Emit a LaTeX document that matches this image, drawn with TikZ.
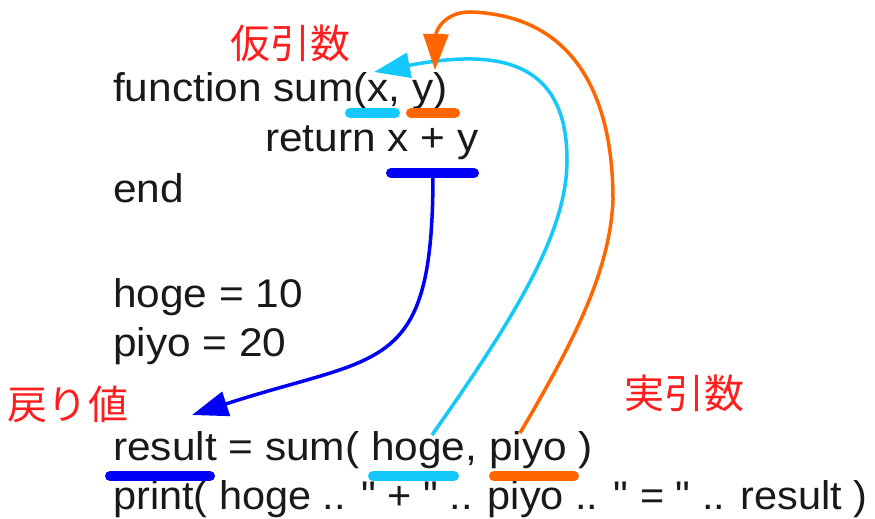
\documentclass[tikz,border=0pt]{standalone}
\usepackage{fontspec}
\usepackage{graphicx}
\setmainfont{Liberation Sans}[FakeStretch=1.06, Ligatures=TeXOff]
\newfontfamily\jpfont{Noto Sans CJK JP}
\usetikzlibrary{arrows.meta}
\definecolor{codetext}{RGB}{25,25,25}
\definecolor{labelred}{RGB}{255,30,30}
\definecolor{argcyan}{RGB}{20,200,250}
\definecolor{argorange}{RGB}{255,102,0}
\definecolor{retblue}{RGB}{0,0,245}
\tikzset{
  codeline/.style={anchor=base west, inner sep=0pt, text=codetext, font=\fontsize{40}{48}\selectfont},
  jlabel/.style={anchor=center, inner sep=0pt, text=labelred, font=\jpfont\fontsize{40}{48}\selectfont},
  mark line/.style={line width=10pt, line cap=round},
  link/.style={line width=3.5pt, -{Triangle[length=36pt,width=25pt]}},
}
\begin{document}
\begin{tikzpicture}[x=1pt,y=-1pt]
\useasboundingbox (0,0) rectangle (875,519);
% code
\node[codeline] (l1) at (113,101) {function sum(x, y)};
\node[codeline] (l2) at (265,151) {return x + y};
\node[codeline] (l3) at (113,202) {end};
\node[codeline] (l4) at (113,307) {hoge = 10};
\node[codeline] (l5) at (113,356) {piyo = 20};
\node[codeline] (l6) at (113,460) {result = sum( hoge, piyo )};
\node[codeline] (l7) at (113,509) {\resizebox{754pt}{\height}{print( hoge .. " + " .. piyo .. " = " .. result )}};
% labels
\node[jlabel] (karihiki) at (290,43) {仮引数};
\node[jlabel] (jitsuhiki) at (684,393) {実引数};
\node[jlabel] (modori) at (68,404) {戻り値};
% underline marks
\coordinate (ux1) at (350,113); \coordinate (ux2) at (395,113);
\coordinate (uy1) at (411,113); \coordinate (uy2) at (455,113);
\coordinate (ur1) at (391,173); \coordinate (ur2) at (474,173);
\coordinate (ures1) at (110,476); \coordinate (ures2) at (210,476);
\coordinate (uh1) at (373,476); \coordinate (uh2) at (454,476);
\coordinate (up1) at (494,476); \coordinate (up2) at (574,476);
\draw[mark line, argcyan] (ux1) -- (ux2);
\draw[mark line, argorange] (uy1) -- (uy2);
\draw[mark line, retblue] (ur1) -- (ur2);
\draw[mark line, retblue] (ures1) -- (ures2);
\draw[mark line, argcyan] (uh1) -- (uh2);
\draw[mark line, argorange] (up1) -- (up2);
% connector ends
\coordinate (retStart) at (433,174);
\coordinate (retTip) at (192,415);
\coordinate (hogeStart) at (432,435);
\coordinate (cyanMid) at (567,160);
\coordinate (xTip) at (374,72);
\coordinate (piyoStart) at (520,433);
\coordinate (orMid) at (613,200);
\coordinate (orTop) at (470,12);
\coordinate (yTip) at (435,70);
% connectors
\draw[link, retblue] (retStart) .. controls (433,376) and (382,353) .. (retTip);
\draw[link, argcyan] (hogeStart) .. controls (520,310) and (567,230) .. (cyanMid)
   .. controls (567,55) and (490,50) .. (xTip);
\draw[link, argorange] (piyoStart) .. controls (575,340) and (610,270) .. (orMid)
   .. controls (613,90) and (570,15) .. (orTop)
   .. controls (445,12) and (436,30) .. (yTip);
\end{tikzpicture}
\end{document}
